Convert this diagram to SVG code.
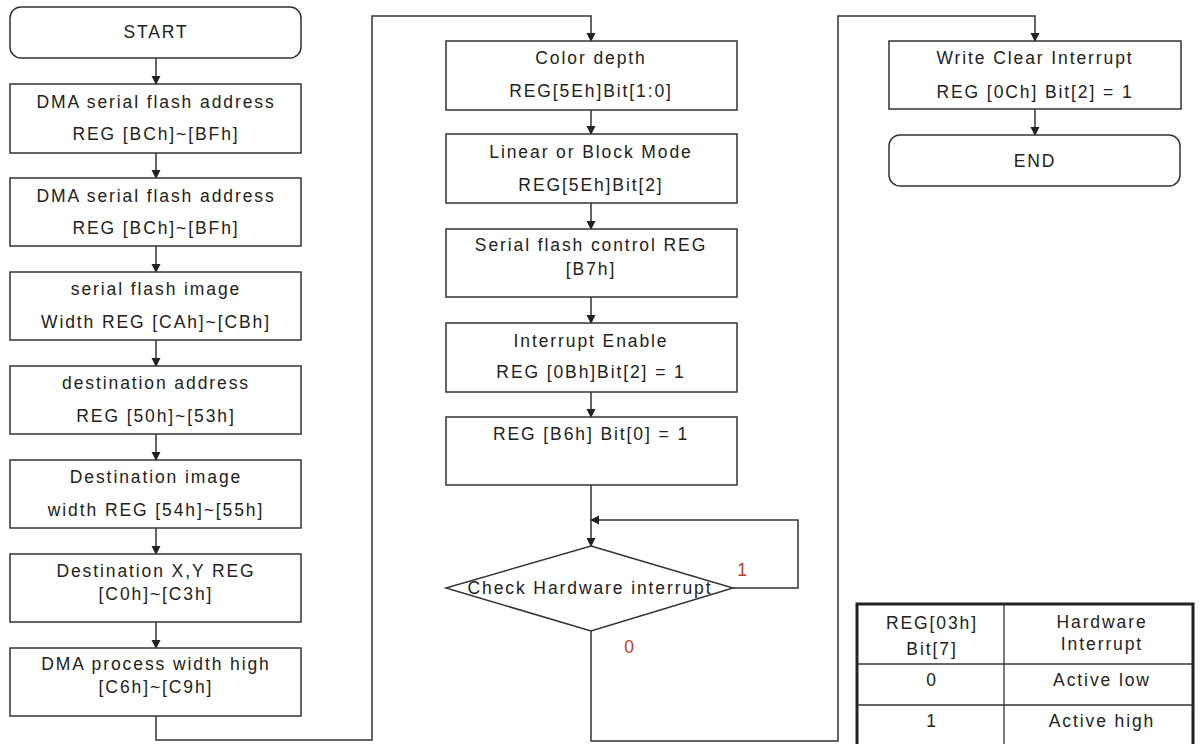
<svg xmlns="http://www.w3.org/2000/svg" width="1203" height="744" viewBox="0 0 1203 744">
<style>
.b{fill:#fff;stroke:#333;stroke-width:1.5}
.t{font-family:"Liberation Sans",Arial,sans-serif;font-size:17.5px;letter-spacing:1.9px;fill:#222;text-anchor:middle}
.r{fill:#c0392b}
.c{fill:none;stroke:#333;stroke-width:1.5}
.a{marker-end:url(#ah)}
.g{stroke:#333;stroke-width:1.3}
</style>
<defs>
<marker id="ah" markerWidth="10" markerHeight="10" refX="8" refY="4.5" orient="auto" markerUnits="userSpaceOnUse">
<path d="M0,0 L9,4.5 L0,9 Z" fill="#222"/>
</marker>
</defs>
<rect width="1203" height="744" fill="#fff"/>
<g id="connectors">
<path class="c a" d="M156 58 V84"/>
<path class="c a" d="M156 153 V178"/>
<path class="c a" d="M156 246 V272"/>
<path class="c a" d="M156 340 V366"/>
<path class="c a" d="M156 434 V460"/>
<path class="c a" d="M156 528 V554"/>
<path class="c a" d="M156 622 V648"/>
<path class="c a" d="M156 716 V740 H372 V16 H591 V41"/>
<path class="c a" d="M591 110 V134"/>
<path class="c a" d="M591 203 V229"/>
<path class="c a" d="M591 297 V323"/>
<path class="c a" d="M591 392 V417"/>
<path class="c a" d="M591 485 V546"/>
<path class="c a" d="M733 588 H798 V520 H591"/>
<path class="c a" d="M591 631 V741 H838 V16 H1035 V41"/>
<path class="c a" d="M1035 109 V135"/>
</g>
<g id="start"><rect class="b" x="10" y="7" width="291" height="51" rx="11"/><text class="t" x="156" y="38">START</text></g>
<g id="n1"><rect class="b" x="10" y="84" width="291" height="69"/><text class="t" x="156" y="108">DMA serial flash address</text><text class="t" x="156" y="140">REG [BCh]~[BFh]</text></g>
<g id="n2"><rect class="b" x="10" y="178" width="291" height="68"/><text class="t" x="156" y="202">DMA serial flash address</text><text class="t" x="156" y="234">REG [BCh]~[BFh]</text></g>
<g id="n3"><rect class="b" x="10" y="272" width="291" height="68"/><text class="t" x="156" y="295">serial flash image</text><text class="t" x="156" y="328">Width REG [CAh]~[CBh]</text></g>
<g id="n4"><rect class="b" x="10" y="366" width="291" height="68"/><text class="t" x="156" y="389">destination address</text><text class="t" x="156" y="422">REG [50h]~[53h]</text></g>
<g id="n5"><rect class="b" x="10" y="460" width="291" height="68"/><text class="t" x="156" y="483">Destination image</text><text class="t" x="156" y="516">width REG [54h]~[55h]</text></g>
<g id="n6"><rect class="b" x="10" y="554" width="291" height="68"/><text class="t" x="156" y="577">Destination X,Y REG</text><text class="t" x="156" y="600">[C0h]~[C3h]</text></g>
<g id="n7"><rect class="b" x="10" y="648" width="291" height="68"/><text class="t" x="156" y="670">DMA process width high</text><text class="t" x="156" y="693">[C6h]~[C9h]</text></g>
<g id="m1"><rect class="b" x="446" y="41" width="291" height="69"/><text class="t" x="591" y="64">Color depth</text><text class="t" x="591" y="97">REG[5Eh]Bit[1:0]</text></g>
<g id="m2"><rect class="b" x="446" y="134" width="291" height="69"/><text class="t" x="591" y="158">Linear or Block Mode</text><text class="t" x="591" y="191">REG[5Eh]Bit[2]</text></g>
<g id="m3"><rect class="b" x="446" y="229" width="291" height="68"/><text class="t" x="591" y="251">Serial flash control REG</text><text class="t" x="591" y="275">[B7h]</text></g>
<g id="m4"><rect class="b" x="446" y="323" width="291" height="69"/><text class="t" x="591" y="347">Interrupt Enable</text><text class="t" x="591" y="378">REG [0Bh]Bit[2] = 1</text></g>
<g id="m5"><rect class="b" x="446" y="417" width="291" height="68"/><text class="t" x="591" y="440">REG [B6h] Bit[0] = 1</text></g>
<g id="decision"><polygon class="b" points="591,546 733,588 591,631 446,588"/><text class="t" x="590" y="594">Check Hardware interrupt</text></g>
<g id="labels"><text class="t r" x="743" y="576">1</text><text class="t r" x="630" y="653">0</text></g>
<g id="r1"><rect class="b" x="889" y="41" width="292" height="68"/><text class="t" x="1035" y="64">Write Clear Interrupt</text><text class="t" x="1035" y="98">REG [0Ch] Bit[2] = 1</text></g>
<g id="end"><rect class="b" x="889" y="135" width="291" height="51" rx="11"/><text class="t" x="1035" y="167">END</text></g>
<g id="table">
<rect x="857" y="604" width="336" height="142" fill="#fff" stroke="#222" stroke-width="3"/>
<line class="g" x1="1004" y1="604" x2="1004" y2="744"/>
<line class="g" x1="857" y1="664" x2="1193" y2="664"/>
<line class="g" x1="857" y1="705" x2="1193" y2="705"/>
<text class="t" x="932" y="629">REG[03h]</text>
<text class="t" x="932" y="655">Bit[7]</text>
<text class="t" x="1102" y="628">Hardware</text>
<text class="t" x="1102" y="650">Interrupt</text>
<text class="t" x="932" y="686">0</text>
<text class="t" x="1102" y="686">Active low</text>
<text class="t" x="932" y="727">1</text>
<text class="t" x="1102" y="727">Active high</text>
</g>
</svg>
